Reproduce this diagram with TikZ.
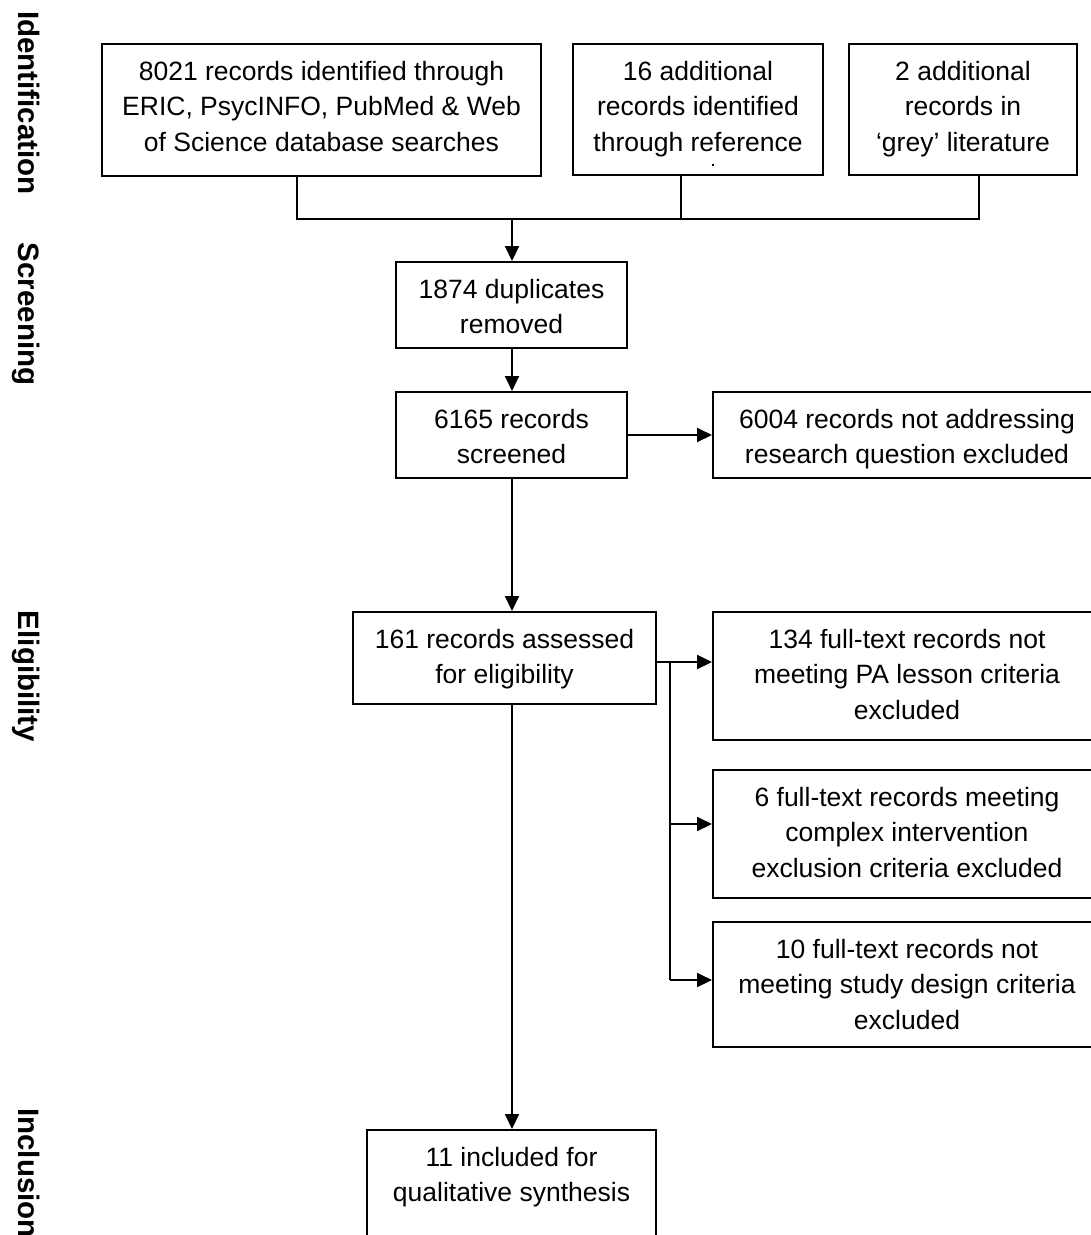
\documentclass[tikz,border=0pt]{standalone}
\usepackage{fontspec}
\setmainfont{Liberation Sans}
\usetikzlibrary{arrows.meta,calc}
\newcommand{\bxtext}[3]{\parbox[c][#2][t]{#1}{\centering\rule{0pt}{36pt}#3\par}}
\begin{document}
\begin{tikzpicture}[x=1pt,y=-1pt,
  bx/.style={draw,line width=2pt,inner sep=0pt,rectangle,font=\fontsize{26.5}{35.5}\selectfont},
  ln/.style={line width=2pt},
  arr/.style={line width=2pt,-{Triangle[length=15pt,width=14pt]}},
  phase/.style={rotate=-90,anchor=base,inner sep=0pt,font=\fontsize{29.5}{35}\selectfont\bfseries}]
\useasboundingbox (0,0) rectangle (1091,1235);
\fill[white] (0,0) rectangle (1091,1235);
\clip (0,0) rectangle (1091,1235);

% phase labels
\node[phase] (pid) at (19,103) {Identification};
\node[phase] (psc) at (19,314) {Screening};
\node[phase] (pel) at (19,676.5) {Eligibility};
\node[phase] (pin) at (19,1173) {Inclusion};

% boxes
\node[bx] (b1) at (321.5,110) {\bxtext{439pt}{132pt}{8021 records identified through\\ERIC, PsycINFO, PubMed \& Web\\of Science database searches}};
\node[bx] (b2) at (698,109.5) {\bxtext{250pt}{131pt}{16 additional\\records identified\\through reference}};
\node[bx] (b3) at (963,109.5) {\bxtext{228pt}{131pt}{2 additional\\records in\\`grey' literature}};
\node[bx] (dup) at (511.5,305) {\bxtext{231pt}{86pt}{1874 duplicates\\removed}};
\node[bx] (scr) at (511.5,435) {\bxtext{231pt}{86pt}{6165 records\\screened}};
\node[bx] (ex1) at (907,435) {\bxtext{388pt}{86pt}{6004 records not addressing\\research question excluded}};
\node[bx] (elig) at (504.5,658) {\bxtext{303pt}{92pt}{161 records assessed\\for eligibility}};
\node[bx] (ex2) at (907,676) {\bxtext{388pt}{128pt}{134 full-text records not\\meeting PA lesson criteria\\excluded}};
\node[bx] (ex3) at (907,834) {\bxtext{388pt}{128pt}{6 full-text records meeting\\complex intervention\\exclusion criteria excluded}};
\node[bx] (ex4) at (907,984.5) {\bxtext{388pt}{125pt}{10 full-text records not\\meeting study design criteria\\excluded}};
\node[bx] (inc) at (511.5,1195) {\bxtext{289pt}{130pt}{11 included for\\qualitative synthesis}};

% tiny clipped glyph remnant in box 2
\fill (711.8,164.2) rectangle (713.8,165.8);

% connectors
\coordinate (j1) at (297,219);
\coordinate (j2) at (681,219);
\coordinate (j3) at (979,219);
\coordinate (jm) at (512,219);
\draw[ln] (b1.south -| j1) -- (j1) -- (j3) -- (b3.south -| j3);
\draw[ln] (b2.south -| j2) -- (j2);
\draw[arr] (jm) -- (dup.north -| jm);
\draw[arr] (dup.south -| jm) -- (scr.north -| jm);
\draw[arr] (scr.east) -- (ex1.west);
\draw[arr] (scr.south -| jm) -- (elig.north -| jm);

\coordinate (br1) at (670,662);
\coordinate (br2) at (670,824);
\coordinate (br3) at (670,980);
\draw[arr] (elig.east |- br1) -- (ex2.west |- br1);
\draw[ln] (br1) -- (br3);
\draw[arr] (br2) -- (ex3.west |- br2);
\draw[arr] (br3) -- (ex4.west |- br3);
\draw[arr] (elig.south -| jm) -- (inc.north -| jm);
\end{tikzpicture}
\end{document}
